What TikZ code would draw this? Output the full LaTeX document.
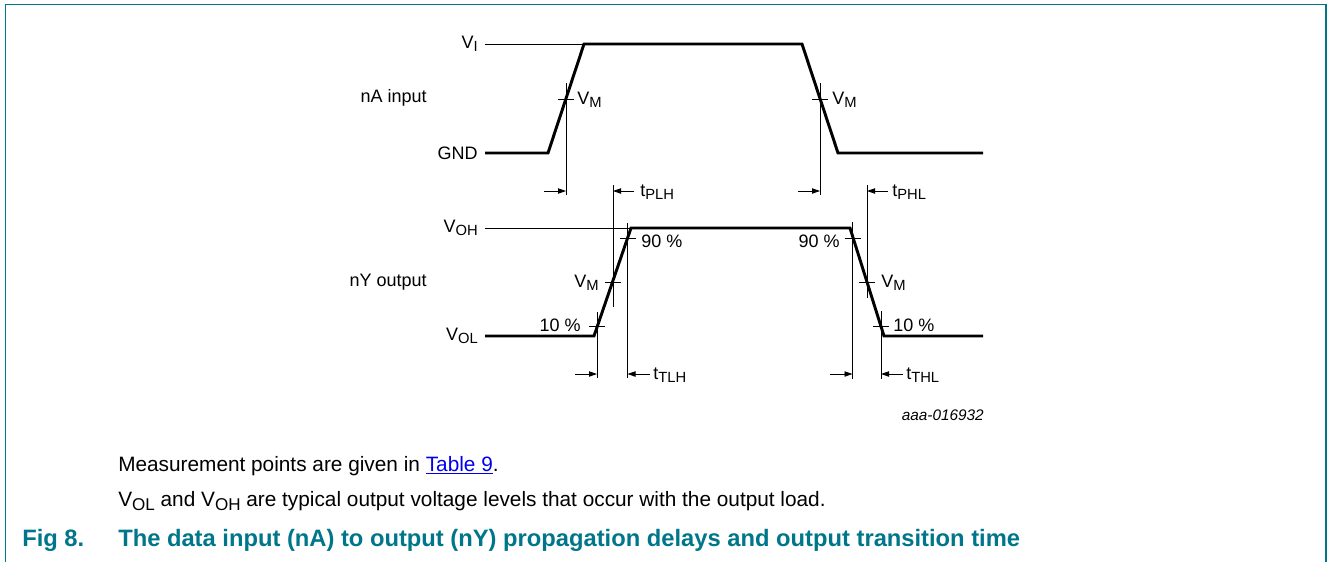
\documentclass[tikz,border=0pt]{standalone}
\usepackage{fontspec}
\setmainfont{Liberation Sans}
\usepackage{tikz}
\usetikzlibrary{arrows.meta}
\usetikzlibrary{calc}
\definecolor{figteal}{RGB}{0,118,138}
\definecolor{linkblue}{RGB}{0,0,238}
\tikzstyle{wave}=[draw,line width=2.2pt,line join=miter]
\tikzstyle{guide}=[draw,line width=0.6pt]
\tikzstyle{tarrow}=[draw,line width=0.6pt,-{Triangle[length=6pt,width=4pt]}]
\tikzstyle{lbl}=[font=\fontsize{13.5}{15}\selectfont,inner sep=0pt]
\tikzstyle{note}=[font=\fontsize{11.5}{13}\selectfont\itshape,inner sep=0pt]
\tikzstyle{capt}=[font=\fontsize{15.6}{18}\selectfont,inner sep=0pt,anchor=west]
\tikzstyle{title}=[font=\fontsize{17.8}{20}\selectfont\bfseries,text=figteal,inner sep=0pt,anchor=west]
\newcommand{\lsub}[1]{\raisebox{-0.35ex}{\scalebox{0.82}{#1}}}

\begin{document}
\begin{tikzpicture}[x=0.75pt,y=-0.75pt]

  \useasboundingbox (0,0) rectangle (1330,562);

  % frame
  \draw[figteal,line width=1.4pt] (5.5,562) -- (5.5,4.5) -- (1326,4.5) -- (1326,562);

  % corners of both waveforms
  \foreach \name/\x/\y in {iA/485/153, iB/548/153, iC/584/44, iD/802/44, iE/838/153, iF/983/153,
                           vI/485/44, oA/485/336, oB/594/336, oC/631/228, oD/850/228, oE/884/336,
                           oF/983/336, vOH/485/228}
          \coordinate (\name) at (\x,\y);

  % measurement points
  \foreach \name/\x/\y in {mR/566/99, mF/820/99, r10/597/326, rM/613/282, r90/627.5/238,
                           f90/852.5/238, fM/867/282, f10/881/326}
          \coordinate (\name) at (\x,\y);

  \path[guide] (vI) -- (iC);
  \path[guide] (vOH) -- (oC);
  \path[wave] (iA) -- (iB) -- (iC) -- (iD) -- (iE) -- (iF);
  \path[wave] (oA) -- (oB) -- (oC) -- (oD) -- (oE) -- (oF);

  % ticks
  \foreach \name in {mR, mF, r10, rM, r90, f90, fM, f10}
          \path[guide] ($(\name)+(-8,0)$) -- ($(\name)+(8,0)$);

  % vertical markers
  \foreach \name/\x/\ytop/\ybot in {vmR/566/83/195, vmF/820/83/195, vrM/613/185/307, vfM/867/185/298,
                                    vr90/627.5/223/378, vr10/597/312/378, vf90/852.5/222/379, vf10/881/311/379}
  {
          \coordinate (\name t) at (\x,\ytop);
          \coordinate (\name b) at (\x,\ybot);
          \path[guide] (\name t) -- (\name b);
  }

  % timing arrows
  \foreach \name/\xs/\xe/\y in {aR/544/566/191, aPLH/634/613/191, aF/798/820/191, aPHL/888/867/191,
                                aR10/575/597/374, aTLH/650/627.5/374, aF90/830/852.5/374, aTHL/903/881/374}
  {
          \coordinate (\name s) at (\xs,\y);
          \coordinate (\name e) at (\xe,\y);
          \path[tarrow] (\name s) -- (\name e);
  }

  % level labels
  \foreach \x/\y/\name/\label/\pos in {478/44/lVI/V\lsub{I}/east, 427/98/lnA/nA input/east,
                                       478/153/lGND/GND/east, 478/228/lVOH/V\lsub{OH}/east,
                                       427/282/lnY/nY output/east, 478/336/lVOL/V\lsub{OL}/east}
          \node[lbl,anchor=\pos] (\name) at (\x,\y) {\label};

  % point labels
  \foreach \x/\y/\name/\label/\pos in {577/100/lmR/V\lsub{M}/west, 832/100/lmF/V\lsub{M}/west,
                                       641/241/lr90/90 \%/west, 840/241/lf90/90 \%/east,
                                       599/283/lrM/V\lsub{M}/east, 881/283/lfM/V\lsub{M}/west,
                                       581/325/lr10/10 \%/east, 893/325/lf10/10 \%/west}
          \node[lbl,anchor=\pos] (\name) at (\x,\y) {\label};

  % time labels
  \foreach \x/\y/\name/\label in {640/192/lPLH/t\lsub{PLH}, 892/192/lPHL/t\lsub{PHL},
                                  653/375/lTLH/t\lsub{TLH}, 906/375/lTHL/t\lsub{THL}}
          \node[lbl,anchor=west] (\name) at (\x,\y) {\label};

  \node[note,anchor=east] (code) at (984,415) {aaa-016932};

  % caption
  \node[capt] (cap1) at (118,466) {Measurement points are given in \textcolor{linkblue}{\underline{Table 9}}.};
  \node[capt] (cap2) at (118,501) {V\lsub{OL} and V\lsub{OH} are typical output voltage levels that occur with the output load.};
  \node[title] (fig) at (22,540) {Fig 8.};
  \node[title] (figtext) at (118,540) {The data input (nA) to output (nY) propagation delays and output transition time};

\end{tikzpicture}
\end{document}
